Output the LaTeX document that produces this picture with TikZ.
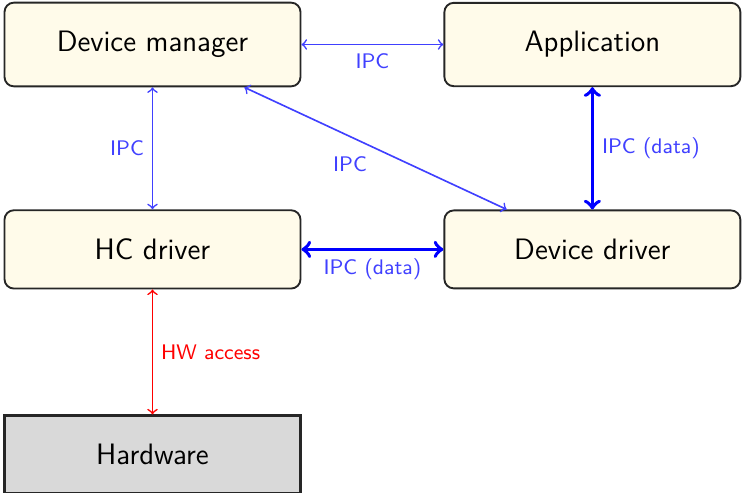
\documentclass[tikz,border=0pt]{standalone}
\usepackage{tikz}
\usetikzlibrary{positioning, arrows}
\definecolor{cream}{RGB}{255,251,234}

\begin{document}
\begin{tikzpicture}[<->,
		box/.style={draw=black!85, thick, rounded corners=4pt, fill=cream, minimum width=4.44cm, inner ysep=12.2pt, font=\sffamily\fontsize{12.6}{15}\selectfont},
		hwbox/.style={box, rounded corners=0pt, fill=gray!30, line width=1pt},
		ipc/.style={blue!75, line width=0.7pt},
		ipcdata/.style={blue, line width=1.6pt},
		lbl/.style={blue!75, font=\sffamily\small}]
			\useasboundingbox (-2.2875,0.6675) rectangle (8.8575,-6.7125);
			\node[box] (dm) {Device manager};
			\node[box, right = 2.13cm of dm] (app) {Application};
			\node[box, below = 1.83cm of dm] (hc) {HC driver};
			\node[box, right = 2.13cm of hc] (dd) {Device driver};
			\node[hwbox, below = 1.875cm of hc] (hw) {Hardware};
			
			\draw[ipc] (dm) -- node[lbl, below] {IPC} (app);
			\draw[ipc] (dm) -- node[lbl, left] {IPC} (hc);
			\draw[ipc] (dm) -- node[lbl, below left, pos=0.5] {IPC} (dd);
			\draw[ipcdata] (app) -- node[lbl, right] {IPC (data)} (dd);
			\draw[ipcdata] (hc) -- node[lbl, below] {IPC (data)} (dd);
			\draw[red, line width=0.7pt] (hc) -- node[right, font=\sffamily\small] {HW access} (hw);
		\end{tikzpicture}
\end{document}
